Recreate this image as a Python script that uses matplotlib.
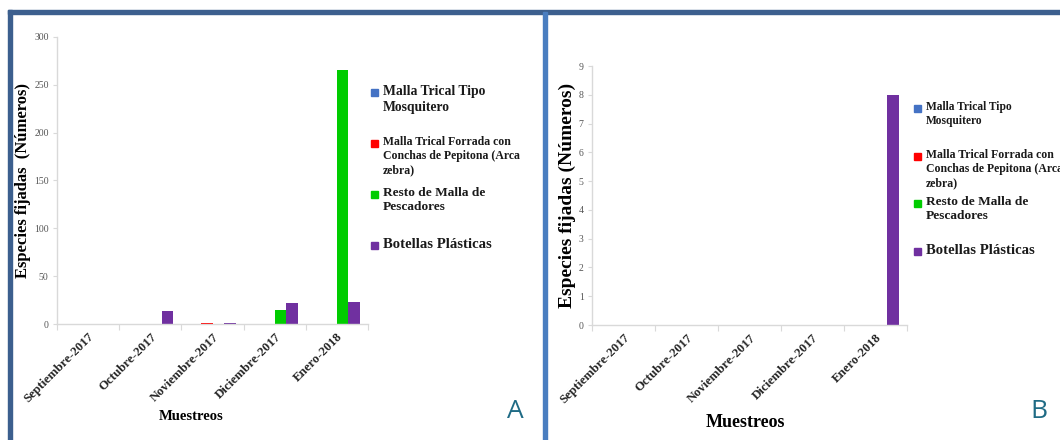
import numpy as np
import matplotlib.pyplot as plt
from matplotlib.patches import Rectangle
from matplotlib.transforms import Bbox, TransformedBbox

# datos
meses = ['Septiembre-2017', 'Octubre-2017', 'Noviembre-2017', 'Diciembre-2017', 'Enero-2018']
series = ['Malla Trical Tipo\nMosquitero',
          'Malla Trical Forrada con\nConchas de Pepitona (Arca\nzebra)',
          'Resto de Malla de\nPescadores',
          'Botellas Plásticas']
colores = ['#4472C4', '#FF0000', '#00CC00', '#7030A0']

mosquitero_A = [0, 0, 0, 0, 0]
pepitona_A = [0, 0, 1, 0, 0]
pescadores_A = [0, 0, 0, 15, 266]
botellas_A = [0, 14, 1, 22, 23]

mosquitero_B = [0, 0, 0, 0, 0]
pepitona_B = [0, 0, 0, 0, 0]
pescadores_B = [0, 0, 0, 0, 0]
botellas_B = [0, 0, 0, 0, 8]

W, H = 1060, 440
serif = 'Liberation Serif'


def px(x):
    return x / W


def py(y):
    return 1 - y / H


def panel(fig, box, datos, ymax, ystep, ylabel, ylsize, xlsize):
    x0, x1, ytop, ybot = box
    ax = fig.add_axes([px(x0), py(ybot), px(x1 - x0), (ybot - ytop) / H])
    x = np.arange(len(meses))
    w = 0.185
    for i, (vals, c) in enumerate(zip(datos, colores)):
        ax.bar(x + (i - 1.5) * w, vals, w, color=c, linewidth=0)
    ax.set_xlim(-0.5, len(meses) - 0.5)
    ax.set_ylim(0, ymax)
    ax.set_yticks(np.arange(0, ymax + 1, ystep))
    for s in ['top', 'right']:
        ax.spines[s].set_visible(False)
    for s in ['left', 'bottom']:
        ax.spines[s].set_color('#D9D9D9')
        ax.spines[s].set_linewidth(1)
    ax.set_xticks(np.arange(-0.5, len(meses)), [''] * (len(meses) + 1))
    ax.set_xticks(x, meses, minor=True)
    ax.tick_params(axis='x', which='major', length=4, color='#D9D9D9', direction='out')
    ax.tick_params(axis='x', which='minor', length=0, pad=5)
    ax.tick_params(axis='y', length=3, color='#D9D9D9', labelsize=7,
                   labelcolor='#555555', pad=3)
    for t in ax.get_xticklabels(minor=True):
        t.set_rotation(45)
        t.set_ha('right')
        t.set_rotation_mode('anchor')
        t.set_fontfamily(serif)
        t.set_fontweight('bold')
        t.set_fontsize(9.3)
        t.set_color('#262626')
    for t in ax.get_yticklabels():
        t.set_fontfamily(serif)
    ax.set_ylabel(ylabel, fontfamily=serif, fontweight='bold', fontsize=ylsize, labelpad=2)
    ax.set_xlabel('Muestreos', fontfamily=serif, fontweight='bold', fontsize=xlsize)
    return ax


def leyenda(fig, xsq, xtxt, ytops, sizes, clip):
    for lab, c, yt, fs in zip(series, colores, ytops, sizes):
        fig.patches.append(Rectangle((px(xsq), py(yt + 4)), px(7), 7 / H,
                                     transform=fig.transFigure, color=c, zorder=3))
        t = fig.text(px(xtxt), py(yt - 7), lab, fontfamily=serif, fontweight='bold',
                     fontsize=fs, va='top', ha='left', linespacing=1.25, color='#1a1a1a')
        t.set_clip_box(TransformedBbox(Bbox([[0, 0], [clip, 1]]), fig.transFigure))
        t.set_clip_on(True)


fig = plt.figure(figsize=(W / 100, H / 100), dpi=100)

axA = panel(fig, (57, 368, 37, 324),
            [mosquitero_A, pepitona_A, pescadores_A, botellas_A],
            300, 50, 'Especies fijadas  (Números)', 12, 10.5)
axA.xaxis.set_label_coords(0.43, -0.30)
axB = panel(fig, (592, 907, 66, 325),
            [mosquitero_B, pepitona_B, pescadores_B, botellas_B],
            9, 1, 'Especies fijadas (Números)', 14, 13)
axB.xaxis.set_label_coords(0.486, -0.345)

leyenda(fig, 371, 383, [92, 143, 194, 245], [9.8, 8.5, 9.6, 10.6], px(543))
leyenda(fig, 914, 926, [108, 156, 203, 251], [8.3, 8.5, 9.6, 10.6], 1.0)

# marcos de los paneles
borde = '#3C5F8E'
fig.patches.append(Rectangle((px(8), py(14)), px(W), 4 / H, transform=fig.transFigure,
                             color=borde, zorder=5))
fig.patches.append(Rectangle((px(8), 0), px(4), py(10), transform=fig.transFigure,
                             color=borde, zorder=5))
fig.patches.append(Rectangle((px(543), 0), px(4), py(12), transform=fig.transFigure,
                             color='#4A7EC0', zorder=6))

fig.text(px(515), py(411), 'A', fontfamily='Open Sans', fontsize=19, color='#1F6B85',
         ha='center', va='center')
fig.text(px(1039), py(411), 'B', fontfamily='Open Sans', fontsize=19, color='#1F6B85',
         ha='center', va='center')

fig.savefig('out.png', dpi=100)
